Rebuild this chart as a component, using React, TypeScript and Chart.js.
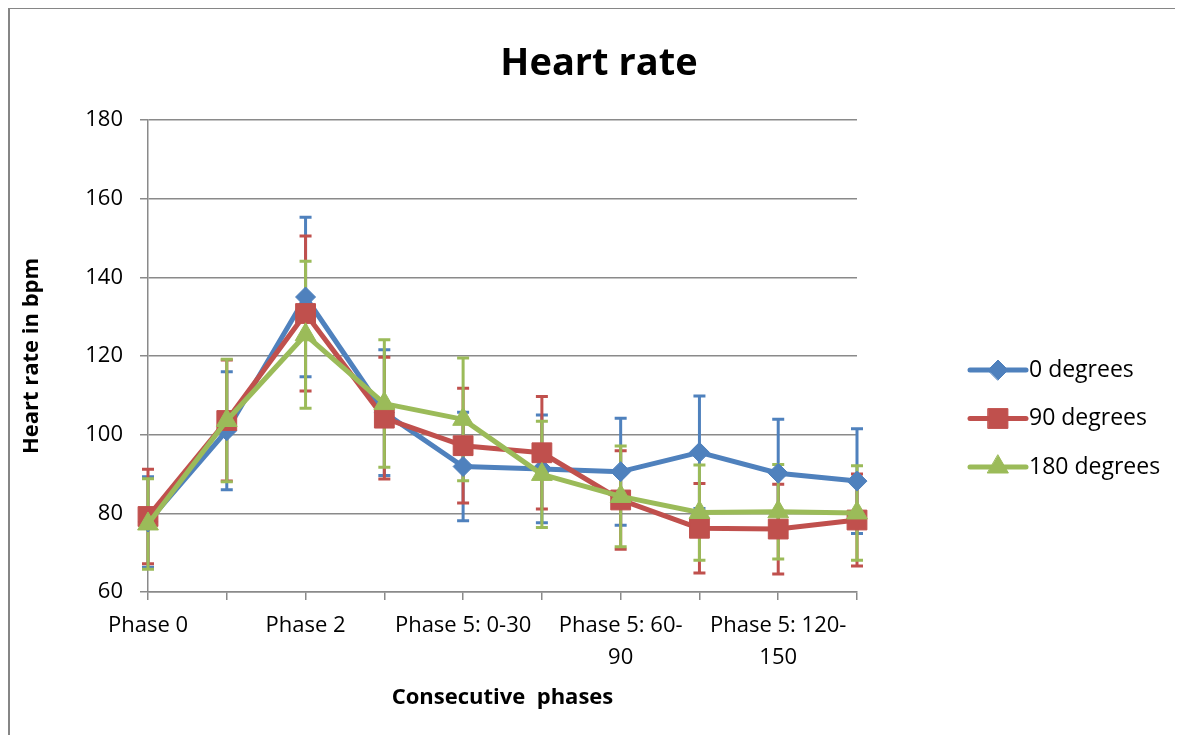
import React, { useEffect, useRef } from 'react';
import { Chart, registerables } from 'chart.js';
import { drawPoint } from 'chart.js/helpers';

Chart.register(...registerables);

// ---- data ----
const categories = [
  'Phase 0',
  'Phase 1',
  'Phase 2',
  'Phase 4',
  'Phase 5: 0-30',
  'Phase 5: 30-60',
  'Phase 5: 60-90',
  'Phase 5: 90-120',
  'Phase 5: 120-150',
  'Phase 5: 150-180',
];
const seriesLabels = ['0 degrees', '90 degrees', '180 degrees'];
const deg0 = [77.8, 101, 135, 105.6, 91.9, 91.3, 90.6, 95.5, 90.2, 88.2];
const sd0 = [11.5, 15, 20.3, 16, 13.8, 13.7, 13.6, 14.3, 13.7, 13.3];
const deg90 = [79.2, 103.6, 130.8, 104.2, 97.2, 95.4, 83.4, 76.2, 76, 78.3];
const sd90 = [12, 15.4, 19.7, 15.5, 14.6, 14.3, 12.5, 11.4, 11.4, 11.7];
const deg180 = [77.3, 103.6, 125.4, 107.9, 103.9, 89.9, 84.3, 80.2, 80.4, 80.1];
const sd180 = [11.5, 15.6, 18.7, 16.2, 15.6, 13.5, 12.8, 12.1, 12, 12];
const yMin = 60;
const yMax = 180;
const yStep = 20;
const chartTitle = 'Heart rate';
const xTitle = 'Consecutive  phases';
const yTitle = 'Heart rate in bpm';

const FONT = '"Open Sans", sans-serif';
const GRID = '#8a8a8a';

function wrapLabel(s: string): string | string[] {
  if (s.length <= 13) return s;
  const k = s.lastIndexOf('-');
  return [s.slice(0, k + 1), s.slice(k + 1)];
}

const framePlugin = {
  id: 'frame',
  beforeDraw(chart: any) {
    const { ctx, width, height } = chart;
    ctx.save();
    ctx.fillStyle = '#fff';
    ctx.fillRect(0, 0, width, height);
    ctx.strokeStyle = '#868686';
    ctx.lineWidth = 2;
    ctx.beginPath();
    ctx.moveTo(1, height);
    ctx.lineTo(1, 1);
    ctx.lineTo(width, 1);
    ctx.stroke();
    ctx.restore();
  },
};

const errorBarPlugin = {
  id: 'errorBars',
  beforeDatasetsDraw(chart: any) {
    const { ctx } = chart;
    const x = chart.scales.x;
    const y = chart.scales.y;
    chart.data.datasets.forEach((ds: any) => {
      const sd: number[] = ds.errors;
      ctx.save();
      ctx.strokeStyle = ds.borderColor;
      ctx.lineWidth = 3;
      ds.data.forEach((v: number, j: number) => {
        const px = x.getPixelForValue(j);
        const top = y.getPixelForValue(v + sd[j]);
        const bot = y.getPixelForValue(v - sd[j]);
        ctx.beginPath();
        ctx.moveTo(px, top);
        ctx.lineTo(px, bot);
        ctx.moveTo(px - 6, top);
        ctx.lineTo(px + 6, top);
        ctx.moveTo(px - 6, bot);
        ctx.lineTo(px + 6, bot);
        ctx.stroke();
      });
      ctx.restore();
    });
  },
};

const titleLegendPlugin = {
  id: 'titleLegend',
  afterDraw(chart: any) {
    const { ctx } = chart;
    ctx.save();
    ctx.fillStyle = '#000';
    ctx.font = `bold 38px ${FONT}`;
    ctx.textAlign = 'center';
    ctx.textBaseline = 'alphabetic';
    ctx.fillText(chartTitle, 591, 68);

    const lx0 = 962;
    const lx1 = 1018;
    const ly0 = 363;
    const gap = 48.5;
    chart.data.datasets.forEach((ds: any, i: number) => {
      const yy = ly0 + i * gap;
      ctx.strokeStyle = ds.borderColor;
      ctx.lineWidth = 5;
      ctx.lineCap = 'round';
      ctx.beginPath();
      ctx.moveTo(lx0, yy);
      ctx.lineTo(lx1, yy);
      ctx.stroke();
      ctx.fillStyle = ds.pointBackgroundColor;
      ctx.strokeStyle = ds.pointBorderColor;
      ctx.lineWidth = 1;
      drawPoint(ctx, { pointStyle: ds.pointStyle, radius: ds.pointRadius, rotation: 0, borderWidth: 1 } as any, (lx0 + lx1) / 2, yy);
      ctx.fillStyle = '#000';
      ctx.font = `23px ${FONT}`;
      ctx.textAlign = 'left';
      ctx.textBaseline = 'middle';
      ctx.fillText(ds.label, lx1 + 3, yy);
    });
    ctx.restore();
  },
};

function makeDataset(label: string, data: number[], errors: number[], color: string, style: string, radius: number, order: number) {
  return {
    label,
    data,
    errors,
    borderColor: color,
    backgroundColor: color,
    pointBackgroundColor: color,
    pointBorderColor: color,
    pointBorderWidth: 1,
    pointStyle: style,
    pointRadius: radius,
    borderWidth: 5,
    borderJoinStyle: 'round',
    borderCapStyle: 'round',
    tension: 0,
    clip: false,
    order,
  } as any;
}

export default function App() {
  const ref = useRef<HTMLCanvasElement>(null);
  useEffect(() => {
    if (!ref.current) return;
    document.body.style.overflow = 'hidden';
    const chart = new Chart(ref.current, {
      type: 'line',
      data: {
        labels: categories,
        datasets: [
          makeDataset(seriesLabels[0], deg0, sd0, '#4F81BD', 'rectRot', 10, 2),
          makeDataset(seriesLabels[1], deg90, sd90, '#C0504D', 'rect', 14, 1),
          makeDataset(seriesLabels[2], deg180, sd180, '#9BBB59', 'triangle', 12, 0),
        ],
      },
      options: {
        responsive: false,
        animation: false,
        layout: { padding: { top: 113, left: 10, right: 326, bottom: 0 } },
        plugins: {
          legend: { display: false },
          title: { display: false },
          tooltip: { enabled: false },
        },
        scales: {
          x: {
            type: 'category',
            offset: false,
            ticks: {
              autoSkip: false,
              maxRotation: 0,
              minRotation: 0,
              color: '#000',
              font: { family: FONT, size: 22, lineHeight: 1.45 },
              padding: 10,
              callback: (_v: any, i: number) => (i % 2 === 0 ? wrapLabel(categories[i]) : ''),
            },
            grid: { drawOnChartArea: false, color: GRID, lineWidth: 1.5, tickLength: 8 },
            border: { color: GRID, width: 1.5 },
            title: {
              display: true,
              text: xTitle,
              color: '#000',
              font: { family: FONT, size: 22, weight: 'bold' },
              padding: { top: 0, bottom: 24 },
            },
            afterFit: (s: any) => {
              s.height = 143;
            },
          },
          y: {
            min: yMin,
            max: yMax,
            ticks: {
              stepSize: yStep,
              color: '#000',
              font: { family: FONT, size: 22 },
              padding: 17,
            },
            grid: { color: GRID, lineWidth: 1.5, tickLength: 8 },
            border: { color: GRID, width: 1.5 },
            title: {
              display: true,
              text: yTitle,
              color: '#000',
              font: { family: FONT, size: 22, weight: 'bold' },
              padding: { top: 1, bottom: 0 },
            },
            afterFit: (s: any) => {
              s.width = 130;
            },
          },
        },
      } as any,
      plugins: [framePlugin, errorBarPlugin, titleLegendPlugin],
    });
    return () => chart.destroy();
  }, []);
  return (
    <div style={{ width: 1175, height: 728, overflow: 'hidden', marginTop: -1 }}>
      <canvas ref={ref} width={1175} height={728} style={{ display: 'block' }} />
    </div>
  );
}
